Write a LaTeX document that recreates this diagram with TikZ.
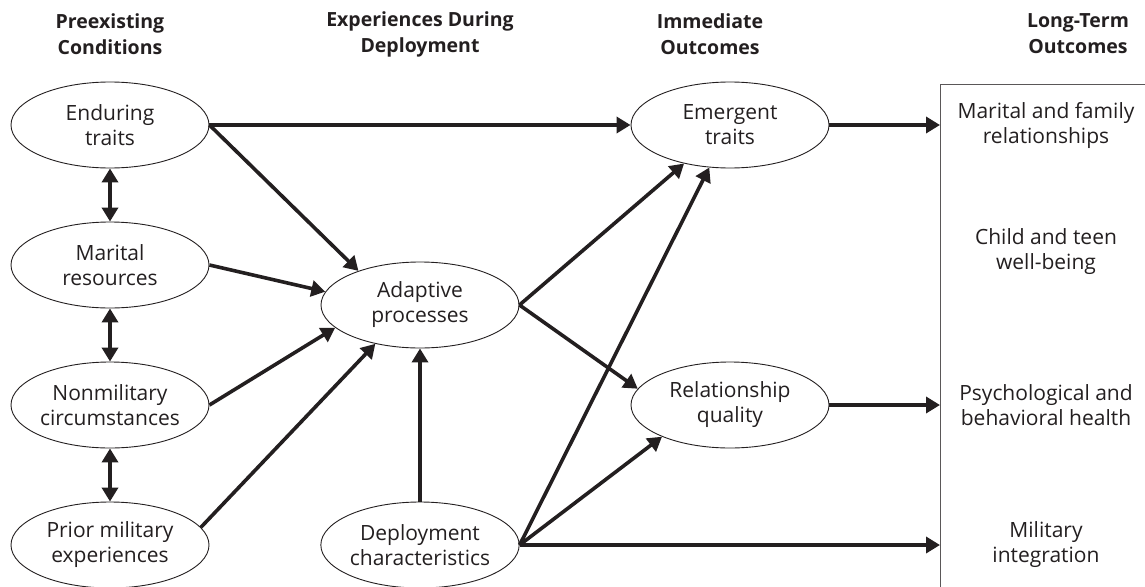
\documentclass[tikz,border=0pt]{standalone}
\usepackage{fontspec}
\setmainfont{Open Sans}
\usetikzlibrary{arrows.meta,shapes.geometric}
\definecolor{ink}{RGB}{35,31,32}
\begin{document}
\begin{tikzpicture}[x=1pt,y=-1pt,
  every node/.style={text=ink},
  oval/.style={ellipse, draw=ink, line width=0.9pt, minimum width=198pt, minimum height=86pt, inner sep=0pt, align=center, font=\fontsize{21}{25}\selectfont},
  hdr/.style={align=center, font=\bfseries\fontsize{19.5}{26}\selectfont},
  outtxt/.style={align=center, font=\fontsize{21}{25}\selectfont},
  conn/.style={draw=ink, line width=3.6pt, -{Triangle[length=14pt,width=16pt]}},
  dconn/.style={draw=ink, line width=3.6pt, {Triangle[length=14pt,width=16pt]}-{Triangle[length=14pt,width=16pt]}},
  boxline/.style={draw=ink!75, line width=1.4pt}
]
\useasboundingbox (0,0) rectangle (1145,586);

% headers
\node[hdr] (h1) at (110,34) {Preexisting\\Conditions};
\node[hdr] (h2) at (420,34) {Experiences During\\Deployment};
\node[hdr] (h3) at (710,34) {Immediate\\Outcomes};
\node[hdr] (h4) at (1078,34) {Long-Term\\Outcomes};

% ovals
\node[oval] (et) at (110,125) {Enduring\\traits};
\node[oval] (mr) at (110,265) {Marital\\resources};
\node[oval] (nc) at (110,405) {Nonmilitary\\circumstances};
\node[oval] (pm) at (110,545) {Prior military\\experiences};
\node[oval] (ap) at (420,305) {Adaptive\\processes};
\node[oval] (dc) at (420,545) {Deployment\\characteristics};
\node[oval] (em) at (730,125) {Emergent\\traits};
\node[oval] (rq) at (730,405) {Relationship\\quality};

% outcome box
\node[boxline, anchor=north west, minimum width=300pt, minimum height=600pt, inner sep=0pt] (box) at (940,84) {};
\node[outtxt] (o1) at (1046,125) {Marital and family\\relationships};
\node[outtxt] (o2) at (1046,252) {Child and teen\\well-being};
\node[outtxt] (o3) at (1046,405) {Psychological and\\behavioral health};
\node[outtxt] (o4) at (1046,545) {Military\\integration};

% connectors
\draw[dconn] (et) -- (mr);
\draw[dconn] (mr) -- (nc);
\draw[dconn] (nc) -- (pm);
\draw[conn] (et.east) -- (em);
\draw[conn] (et.east) -- (ap.151);
\draw[conn] (mr.east) -- (ap.172);
\draw[conn] (nc.east) -- (ap.195);
\draw[conn] (pm.11) -- (ap.221);
\draw[conn] (dc) -- (ap);
\draw[conn] (ap.east) -- (em.220);
\draw[conn] (ap.east) -- (rq.170);
\draw[conn] (dc.east) -- (em.244);
\draw[conn] (dc.east) -- (rq.205);
\draw[conn] (dc.east) -- (dc.east -| box.west);
\draw[conn] (em.east) -- (em.east -| box.west);
\draw[conn] (rq.east) -- (rq.east -| box.west);
\end{tikzpicture}
\end{document}
